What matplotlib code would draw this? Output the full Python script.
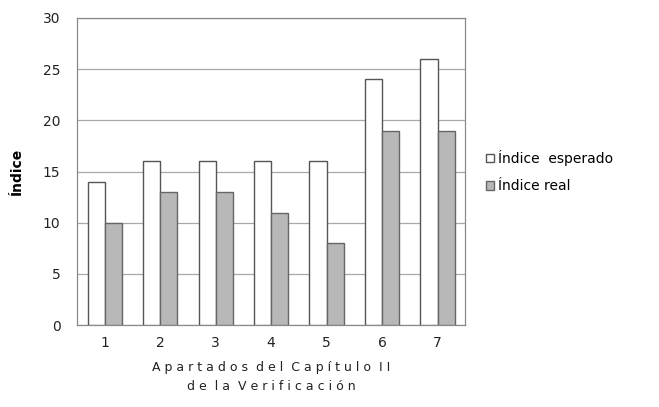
import matplotlib
matplotlib.use("Agg")
import matplotlib.pyplot as plt
import numpy as np

categorias = ["1", "2", "3", "4", "5", "6", "7"]
indice_esperado = [14, 16, 16, 16, 16, 24, 26]
indice_real = [10, 13, 13, 11, 8, 19, 19]
yticks = [0, 5, 10, 15, 20, 25, 30]

fig = plt.figure(figsize=(6.59, 4.07), dpi=100)
ax = fig.add_axes([0.117, 0.201, 0.589, 0.755])

x = np.arange(1, len(categorias) + 1)
w = 0.31
ax.bar(x - w / 2, indice_esperado, width=w, color="white", edgecolor="#555555",
       linewidth=1.0, label="Índice  esperado", zorder=3)
ax.bar(x + w / 2, indice_real, width=w, color="#b8b8b8", edgecolor="#666666",
       linewidth=1.0, label="Índice real", zorder=3)

ax.set_xlim(0.5, 7.5)
ax.set_ylim(0, 30)
ax.set_yticks(yticks)
ax.set_xticks(x)
ax.set_xticklabels(categorias)
ax.yaxis.grid(True, color="#a8a8a8", linewidth=0.9, zorder=0)
for s in ax.spines.values():
    s.set_color("#8a8a8a")
    s.set_linewidth(0.9)
ax.tick_params(axis="both", length=0, labelsize=10, colors="#222222", pad=8)
ax.tick_params(axis="y", pad=12)

ax.set_ylabel("Índice", fontsize=10, fontweight="bold", labelpad=14)
ax.set_xlabel("A p a r t a d o s  d e l  C a p í t u l o  I I\nd e  l a  V e r i f i c a c i ó n",
              fontsize=9, labelpad=8, linespacing=1.6, color="#222222")

ax.legend(loc="center left", bbox_to_anchor=(1.02, 0.50), frameon=False,
          fontsize=10, handlelength=0.6, handleheight=0.6, handletextpad=0.3,
          labelspacing=0.95)

fig.savefig("out.png", dpi=100, facecolor="white")
